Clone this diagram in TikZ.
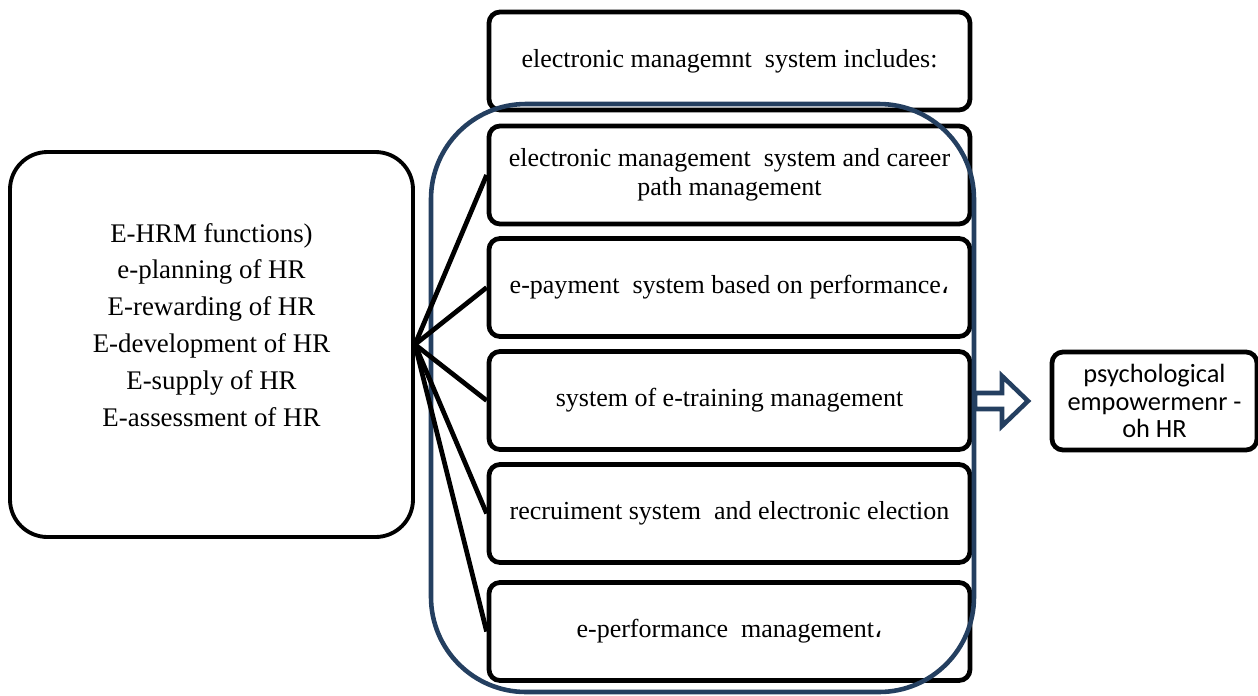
\documentclass[tikz,border=0pt]{standalone}
\usepackage{fontspec}
\setmainfont{Liberation Serif}
\newfontfamily\carlito{Carlito}
\newfontfamily\arabicfont{DejaVu Sans}
\definecolor{frameblue}{RGB}{36,63,96}

\begin{document}
\begin{tikzpicture}[
    item/.style={draw, line width=2.7pt, rounded corners=0.22cm, minimum width=9.62cm, minimum height=1.96cm, align=center, font=\fontsize{14.8}{16.5}\selectfont},
    link/.style={line width=2.7pt},
    ]
    \useasboundingbox (0,0) rectangle (25.16,-13.9);
    \node[draw, line width=2.2pt, rounded corners=0.75cm, minimum width=8.06cm, minimum height=7.7cm] (funcs) at (4.23,-6.89) {};
    \node[align=center, font=\fontsize{15.3}{21}\selectfont] (funcstext) at (4.23,-6.5) {E-HRM functions)\\ e-planning of HR\\ E-rewarding of HR\\ E-development of HR\\ E-supply of HR\\ E-assessment of HR};

    \node[item] (head) at (14.59,-1.22) {electronic managemnt\ \ system includes:};
    \node[item] (path) at (14.59,-3.5) {electronic management\ \ system and career\\ path management};
    \node[item] (pay) at (14.59,-5.75) {e-payment\ \ system based on performance{\arabicfont ،}};
    \node[item] (train) at (14.59,-8.01) {system of e-training management};
    \node[item] (recruit) at (14.59,-10.27) {recruiment system\ \ and electronic election};
    \node[item] (perf) at (14.59,-12.63) {e-performance\ \ management{\arabicfont ،}};

    \draw[frameblue, line width=2.6pt, rounded corners=1.9cm] (8.62,-2.08) rectangle (19.48,-13.84);

    \foreach \n in {path,pay,train,recruit,perf}
        \draw[link] (funcs.east) -- (\n.west);

    \node[draw, line width=2.7pt, rounded corners=0.22cm, minimum width=4.1cm, minimum height=1.96cm, align=center, font=\carlito\fontsize{15}{15.5}\selectfont] (psych) at (23.09,-8.02) {psychological\\ empowermenr -\\ oh HR};

    \coordinate (arrowtail) at (19.5,-8.02);
    \draw[frameblue, line width=2.6pt, fill=white] ([yshift=0.16cm]arrowtail) -- ++(0.54,0) -- ++(0,0.34) -- ++(0.52,-0.5) -- ++(-0.52,-0.5) -- ++(0,0.34) -- ++(-0.54,0) -- cycle;
\end{tikzpicture}
\end{document}
